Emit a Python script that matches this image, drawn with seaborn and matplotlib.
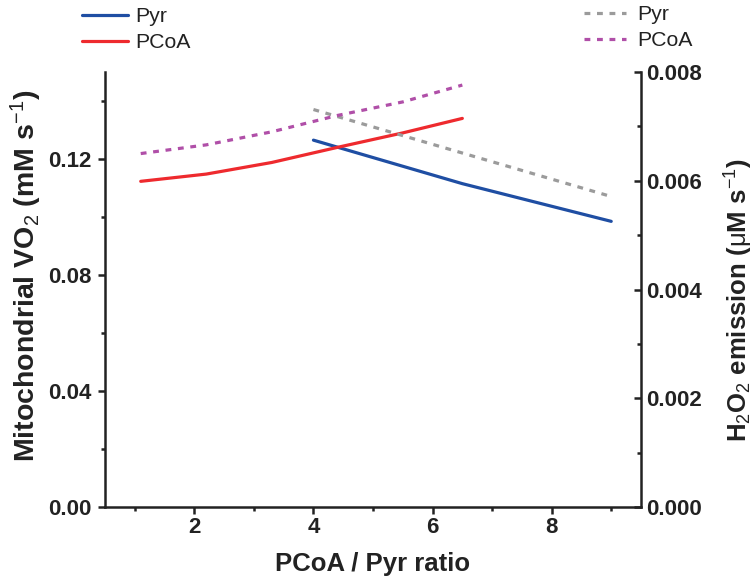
import matplotlib
matplotlib.use("Agg")
import matplotlib.pyplot as plt
from matplotlib.ticker import MultipleLocator
import seaborn as sns
import pandas as pd

# PCoA / Pyr ratio sampled for each substrate series
pcoa_ratio = [1.1, 2.2, 3.3, 4.4, 5.5, 6.5]
pyr_ratio = [4.0, 6.5, 9.0]

# Mitochondrial VO2 (mM s-1), left axis
vo2_pcoa = [0.1123, 0.1148, 0.1188, 0.1240, 0.1290, 0.1340]
vo2_pyr = [0.1265, 0.1115, 0.0985]

# H2O2 emission (uM s-1), right axis
h2o2_pcoa = [0.00650, 0.00666, 0.00690, 0.00720, 0.00745, 0.00776]
h2o2_pyr = [0.00731, 0.00651, 0.00571]

left_ticks = [0.00, 0.04, 0.08, 0.12]
right_ticks = [0.000, 0.002, 0.004, 0.006, 0.008]
x_ticks = [2, 4, 6, 8]

BLUE = "#1f4ea3"
RED = "#ee2a2e"
GRAY = "#9b9b9b"
PURPLE = "#b04fa8"
INK = "#222222"

sns.set_theme(style="ticks")
plt.rcParams["font.family"] = ["Liberation Sans", "DejaVu Sans"]
plt.rcParams["mathtext.fontset"] = "custom"
plt.rcParams["mathtext.rm"] = "Liberation Sans"
plt.rcParams["mathtext.it"] = "Liberation Sans"
plt.rcParams["mathtext.bf"] = "Liberation Sans:bold"
plt.rcParams["mathtext.default"] = "rm"
plt.rcParams["lines.dash_capstyle"] = "butt"
plt.rcParams["lines.scale_dashes"] = False

fig = plt.figure(figsize=(7.54, 5.8), dpi=100)
ax = fig.add_axes([105 / 754, 1 - 507 / 580, (641 - 105) / 754, (507 - 72) / 580])
ax2 = ax.twinx()

df_pcoa = pd.DataFrame({"ratio": pcoa_ratio, "vo2": vo2_pcoa, "h2o2": h2o2_pcoa})
df_pyr = pd.DataFrame({"ratio": pyr_ratio, "vo2": vo2_pyr, "h2o2": h2o2_pyr})

lw = 2.3
sns.lineplot(data=df_pyr, x="ratio", y="vo2", ax=ax, color=BLUE, lw=lw, label="Pyr", legend=False)
sns.lineplot(data=df_pcoa, x="ratio", y="vo2", ax=ax, color=RED, lw=lw, label="PCoA", legend=False)
sns.lineplot(data=df_pyr, x="ratio", y="h2o2", ax=ax2, color=GRAY, lw=lw, label="Pyr", legend=False)
sns.lineplot(data=df_pcoa, x="ratio", y="h2o2", ax=ax2, color=PURPLE, lw=lw, label="PCoA", legend=False)

# square dotted style for the H2O2 traces (dash lengths in points)
for line in ax2.get_lines():
    line.set_linestyle((0, (4.2, 4.8)))
    line.set_dash_capstyle("butt")

ax.set_xlim(0.5, 9.5)
ax.set_ylim(0, 0.15)
ax2.set_ylim(0, 0.008)

ax.set_xticks(x_ticks)
ax.xaxis.set_minor_locator(MultipleLocator(1))
ax.set_yticks(left_ticks)
ax.yaxis.set_minor_locator(MultipleLocator(0.02))
ax2.set_yticks(right_ticks)
ax2.yaxis.set_minor_locator(MultipleLocator(0.001))

ax.set_xticklabels([f"{v:d}" for v in x_ticks])
ax.set_yticklabels([f"{v:.2f}" for v in left_ticks])
ax2.set_yticklabels([f"{v:.3f}" for v in right_ticks])

tick_fs = 16
for a in (ax, ax2):
    for lab in a.get_xticklabels() + a.get_yticklabels():
        lab.set_fontweight("bold")
        lab.set_fontsize(tick_fs)
        lab.set_color(INK)

spine_w = 1.8
ax.spines["top"].set_visible(False)
ax.spines["right"].set_visible(False)
for s in ("left", "bottom"):
    ax.spines[s].set_linewidth(spine_w)
    ax.spines[s].set_color(INK)
for s in ("top", "left", "bottom"):
    ax2.spines[s].set_visible(False)
ax2.spines["right"].set_linewidth(spine_w)
ax2.spines["right"].set_color(INK)

ax.tick_params(axis="x", which="major", direction="out", length=5, width=1.8, color=INK, pad=2)
ax.tick_params(axis="y", which="major", direction="out", length=5, width=1.8, color=INK, pad=5)
ax.tick_params(axis="both", which="minor", direction="out", length=3, width=1.8, color=INK)
ax2.tick_params(axis="y", which="major", direction="in", length=5, width=1.8, color=INK, pad=4)
ax2.tick_params(axis="y", which="minor", direction="in", length=3, width=1.8, color=INK)

ax.set_xlabel("PCoA / Pyr ratio", fontsize=18.5, fontweight="bold", color=INK, labelpad=10)
ax.set_ylabel(r"Mitochondrial VO$_2$ (mM s$^{-1}$)", fontsize=20.5, fontweight="bold",
              color=INK, labelpad=3)
ax.yaxis.label.set_y(0.531)
ax2.set_ylabel(r"H$_2$O$_2$ emission ($\mu$M s$^{-1}$)", fontsize=18.5, fontweight="bold",
               color=INK, labelpad=15)
ax2.yaxis.label.set_y(0.476)

ax.grid(False)
ax2.grid(False)

h1, l1 = ax.get_legend_handles_labels()
h2, l2 = ax2.get_legend_handles_labels()
leg_fs = 15.3
fig.legend(h1, l1, loc="upper left", bbox_to_anchor=(82 / 754, 1 - 7 / 580),
           frameon=False, fontsize=leg_fs, handlelength=2.16, handletextpad=0.33,
           labelspacing=0.35, borderpad=0, borderaxespad=0, labelcolor=INK)
fig.legend(h2, l2, loc="upper left", bbox_to_anchor=(584 / 754, 1 - 5 / 580),
           frameon=False, fontsize=leg_fs, handlelength=1.97, handletextpad=0.52,
           labelspacing=0.35, borderpad=0, borderaxespad=0, labelcolor=INK)

fig.savefig("out.png", dpi=100)
